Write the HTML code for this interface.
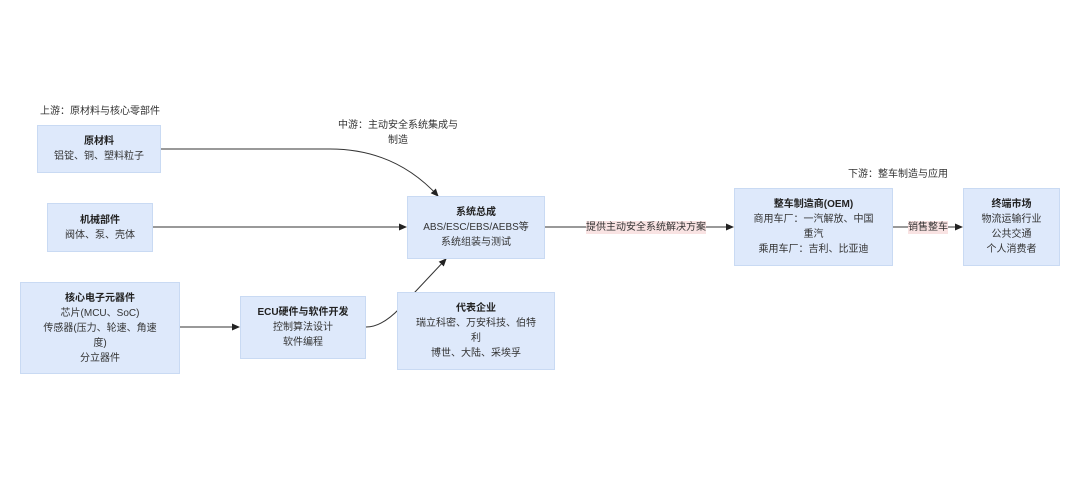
<!DOCTYPE html>
<html><head><meta charset="utf-8"><style>
body{margin:0;width:1080px;height:500px;background:#fff;position:relative;overflow:hidden;font-family:"Liberation Sans","Noto Sans CJK SC",sans-serif;color:#333;font-size:10px}
.b{position:absolute;background:#dee9fb;border:1px solid #c9daf3;box-sizing:border-box;display:flex;flex-direction:column;justify-content:center;align-items:center;text-align:center;line-height:15px}
.b b{color:#222;font-weight:bold}
.t{position:absolute;font-size:10px;color:#333;line-height:15px;white-space:nowrap}
.l{position:absolute;background:#f9e3e3;font-size:10px;line-height:13px;color:#333}
svg{position:absolute;left:0;top:0}
</style></head><body>
<svg width="1080" height="500">
<defs><marker id="a" markerWidth="8" markerHeight="8" refX="7" refY="4" orient="auto" markerUnits="userSpaceOnUse"><path d="M0,0.5 L8,4 L0,7.5z" fill="#222"/></marker></defs>
<g stroke="#333" stroke-width="1" fill="none">
<path d="M161,149 L330,149 Q395,149 438,196" marker-end="url(#a)"/>
<path d="M152,227 L406,227" marker-end="url(#a)"/>
<path d="M179,327 L239,327" marker-end="url(#a)"/>
<path d="M366,327 Q382,327 400,308 L446,259" marker-end="url(#a)"/>
<path d="M544,227 L733,227" marker-end="url(#a)"/>
<path d="M893,227 L962,227" marker-end="url(#a)"/>
</g></svg>
<div class="t" style="left:40px;top:104px">上游：原材料与核心零部件</div>
<div class="t" style="left:336px;top:118px;width:124px;text-align:center;line-height:15px">中游：主动安全系统集成与<br>制造</div>
<div class="t" style="left:848px;top:167px">下游：整车制造与应用</div>
<div class="b" style="left:37px;top:125px;width:124px;height:48px"><b>原材料</b>铝锭、铜、塑料粒子</div>
<div class="b" style="left:47px;top:203px;width:106px;height:49px"><b>机械部件</b>阀体、泵、壳体</div>
<div class="b" style="left:20px;top:282px;width:160px;height:92px"><b>核心电子元器件</b>芯片(MCU、SoC)<br>传感器(压力、轮速、角速<br>度)<br>分立器件</div>
<div class="b" style="left:240px;top:296px;width:126px;height:63px"><b>ECU硬件与软件开发</b>控制算法设计<br>软件编程</div>
<div class="b" style="left:407px;top:196px;width:138px;height:63px"><b>系统总成</b>ABS/ESC/EBS/AEBS等<br>系统组装与测试</div>
<div class="b" style="left:397px;top:292px;width:158px;height:78px"><b>代表企业</b>瑞立科密、万安科技、伯特<br>利<br>博世、大陆、采埃孚</div>
<div class="b" style="left:734px;top:188px;width:159px;height:78px"><b>整车制造商(OEM)</b>商用车厂：一汽解放、中国<br>重汽<br>乘用车厂：吉利、比亚迪</div>
<div class="b" style="left:963px;top:188px;width:97px;height:78px"><b>终端市场</b>物流运输行业<br>公共交通<br>个人消费者</div>
<div class="l" style="left:586px;top:221px">提供主动安全系统解决方案</div>
<div class="l" style="left:908px;top:221px">销售整车</div>
</body></html>
